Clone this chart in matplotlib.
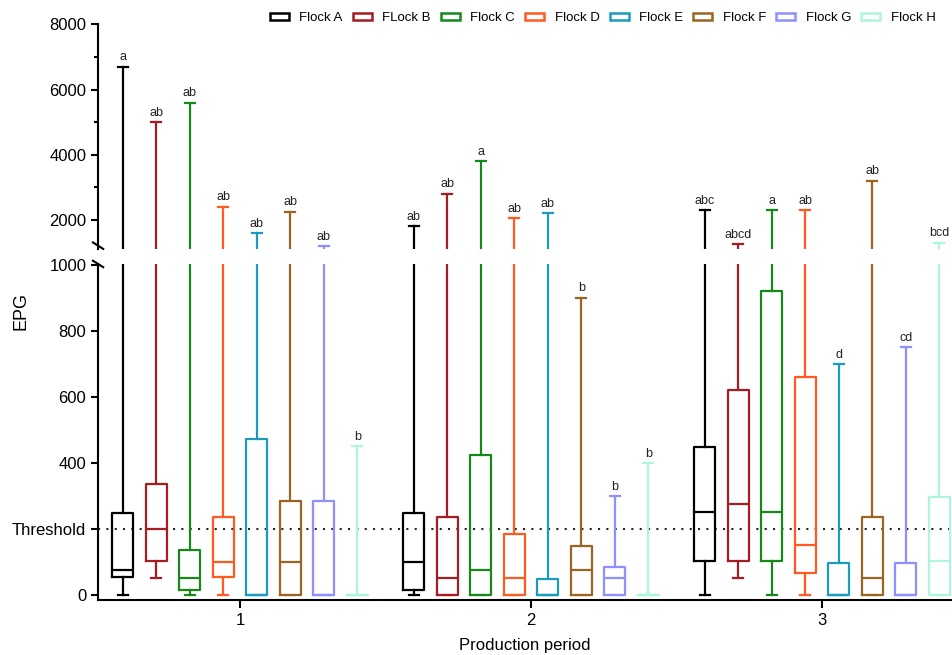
import matplotlib.pyplot as plt
from matplotlib.patches import Patch

plt.rcParams['font.family'] = ['Liberation Sans', 'DejaVu Sans']

# =====================================================
# DATA (EPG box stats)
# =====================================================
flocks = ['Flock A', 'FLock B', 'Flock C', 'Flock D', 'Flock E', 'Flock F', 'Flock G', 'Flock H']
colors = ['#000000', '#a51c24', '#17891a', '#ff5a1f', '#1c9cbc', '#9a6424', '#8f8fff', '#aef5dc']
periods = [1, 2, 3]

# one list per period, one value per flock
q1 = [
    [54, 103, 15, 54, 0, 0, 0, 0],
    [15, 0, 0, 0, 0, 0, 0, 0],
    [102, 102, 102, 66, 0, 0, 0, 0],
]
med = [
    [77, 201, 51, 101, 0, 101, 0, 0],
    [101, 51, 76, 51, 0, 76, 51, 0],
    [251, 276, 251, 152, 0, 51, 0, 102],
]
q3 = [
    [249, 336, 136, 237, 474, 286, 286, 0],
    [249, 237, 424, 185, 48, 149, 86, 0],
    [448, 622, 922, 660, 98, 237, 98, 298],
]
whislo = [
    [0, 51, 0, 0, 0, 0, 0, 0],
    [0, 0, 0, 0, 0, 0, 0, 0],
    [0, 51, 0, 0, 0, 0, 0, 0],
]
whishi = [
    [6700, 5000, 5600, 2400, 1600, 2250, 1200, 450],
    [1800, 2800, 3800, 2050, 2200, 900, 300, 400],
    [2300, 1250, 2300, 2300, 700, 3200, 750, 1300],
]
letters = [
    ['a', 'ab', 'ab', 'ab', 'ab', 'ab', 'ab', 'b'],
    ['ab', 'ab', 'a', 'ab', 'ab', 'b', 'b', 'b'],
    ['abc', 'abcd', 'a', 'ab', 'd', 'ab', 'cd', 'bcd'],
]

threshold = 200
spacing = 0.1151
box_w = 0.072

# =====================================================
# FIGURE WITH BROKEN Y AXIS
# =====================================================
fig = plt.figure(figsize=(9.52, 6.55), dpi=100)
ax_top = fig.add_axes([0.103, 0.6198, 0.897, 0.343])
ax_bot = fig.add_axes([0.103, 0.0840, 0.897, 0.513])

for p, period in enumerate(periods):
    for i in range(len(flocks)):
        x = period + (i - 3.5) * spacing
        stats = [{
            'med': med[p][i], 'q1': q1[p][i], 'q3': q3[p][i],
            'whislo': whislo[p][i], 'whishi': whishi[p][i], 'fliers': [],
        }]
        c = colors[i]
        props = dict(color=c, linewidth=1.6)
        for ax in (ax_top, ax_bot):
            ax.bxp(stats, positions=[x], widths=box_w, capwidths=0.034,
                   showfliers=False, manage_ticks=False,
                   boxprops=props, medianprops=props,
                   whiskerprops=props, capprops=props)
        target = ax_top if whishi[p][i] > 1000 else ax_bot
        target.annotate(letters[p][i], (x, whishi[p][i]), xytext=(0, 2.5),
                        textcoords='offset points', ha='center', va='bottom',
                        fontsize=9, color='#222222')

# axis limits
for ax in (ax_top, ax_bot):
    ax.set_xlim(0.512, 3.447)
ax_top.set_ylim(1108, 8000)
ax_bot.set_ylim(-15, 1003)

# threshold line
ax_bot.axhline(threshold, color='#222222', linestyle=(0, (1, 3)), linewidth=1.5, zorder=0)

# spines / ticks
for s in ['top', 'right', 'bottom']:
    ax_top.spines[s].set_visible(False)
for s in ['top', 'right']:
    ax_bot.spines[s].set_visible(False)
for ax in (ax_top, ax_bot):
    ax.spines['left'].set_linewidth(1.5)
ax_bot.spines['bottom'].set_linewidth(1.5)

ax_top.set_xticks([])
ax_top.set_yticks([2000, 4000, 6000, 8000])
ax_top.set_yticks([3000, 5000, 7000], minor=True)
ax_top.tick_params(axis='y', which='major', length=5, width=1.5, labelsize=12)
ax_top.tick_params(axis='y', which='minor', length=3, width=1.5)

ax_bot.set_yticks([0, 200, 400, 600, 800, 1000])
ax_bot.set_yticklabels(['0', 'Threshold', '400', '600', '800', '1000'])
ax_bot.set_xticks(periods)
ax_bot.tick_params(axis='y', length=5, width=1.5, labelsize=12)
ax_bot.tick_params(axis='x', length=6, width=1.5, labelsize=12)

ax_bot.set_xlabel('Production period', fontsize=12, labelpad=7)
fig.text(0.022, 0.525, 'EPG', rotation=90, ha='center', va='center', fontsize=13)

# break marks "\\" on the left spine
d = 0.006
kw = dict(color='black', linewidth=1.5, clip_on=False)
ax_top.plot([-d, d], [0.015 + d * 2.4, 0.015 - d * 2.4], transform=ax_top.transAxes, **kw)
ax_bot.plot([-d, d], [1.0 + d * 1.6, 1.0 - d * 1.6], transform=ax_bot.transAxes, **kw)

# legend
handles = [Patch(facecolor='white', edgecolor=c, linewidth=1.8) for c in colors]
fig.legend(handles, flocks, loc='center right', bbox_to_anchor=(0.99, 1 - 18 / 655),
           ncol=8, frameon=False, fontsize=9.5, handlelength=1.45, handleheight=0.5,
           handletextpad=0.8, columnspacing=0.75, borderpad=0)

plt.savefig('out.png', dpi=100)
